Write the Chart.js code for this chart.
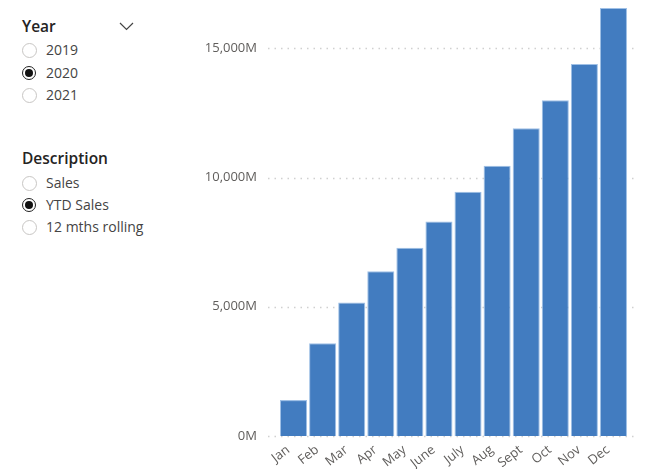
<!DOCTYPE html>
<html>
<head>
<meta charset="utf-8">
<script src="https://cdn.jsdelivr.net/npm/chart.js@4"></script>
<style>
  body { margin: 0; width: 659px; height: 469px; background: #fff; overflow: hidden; font-family: "Open Sans", "Noto Sans", sans-serif; }
  .title { position: absolute; left: 22px; font-size: 15.5px; color: #252423; font-weight: 600; line-height: 20px; }
  .item { position: absolute; left: 22px; font-size: 14px; color: #444; line-height: 20px; height: 20px; }
  .item i { position: absolute; left: 0; top: 3px; width: 13px; height: 13px; border: 1px solid #c8c6c4; border-radius: 50%; box-sizing: content-box; }
  .item.on i { border: 1.5px solid #222; width: 12px; height: 12px; }
  .item.on i::after { content: ""; position: absolute; left: 2px; top: 2px; width: 8px; height: 8px; border-radius: 50%; background: #111; }
  .item span { position: absolute; left: 24px; white-space: nowrap; }
  #wrap { position: absolute; left: 205px; top: 0; width: 454px; height: 469px; }
</style>
</head>
<body>
<div class="title" style="top:16px">Year</div>
<svg style="position:absolute;left:119px;top:22px" width="16" height="10"><polyline points="1,1 7.5,7.5 14,1" fill="none" stroke="#444" stroke-width="1.2"/></svg>
<div class="item" style="top:40px"><i></i><span>2019</span></div>
<div class="item on" style="top:63px"><i></i><span>2020</span></div>
<div class="item" style="top:85px"><i></i><span>2021</span></div>

<div class="title" style="top:148px">Description</div>
<div class="item" style="top:173px"><i></i><span>Sales</span></div>
<div class="item on" style="top:195px"><i></i><span>YTD Sales</span></div>
<div class="item" style="top:217px"><i></i><span>12 mths rolling</span></div>

<div id="wrap"><canvas id="myChart"></canvas></div>

<script>
const months = ['Jan', 'Feb', 'Mar', 'Apr', 'May', 'June', 'July', 'Aug', 'Sept', 'Oct', 'Nov', 'Dec'];
// YTD sales in millions
const ytdSales = [1390, 3590, 5170, 6370, 7280, 8300, 9450, 10460, 11910, 12990, 14390, 16560];
const yTicks = [0, 5000, 10000, 15000];

// dotted gridlines that run a bit past the bars, like the original
const dottedGrid = {
  id: 'dottedGrid',
  beforeDatasetsDraw(chart) {
    const ctx = chart.ctx;
    const area = chart.chartArea;
    const y = chart.scales.y;
    ctx.save();
    ctx.strokeStyle = '#d0d0d0';
    ctx.lineWidth = 1.5;
    ctx.setLineDash([1.5, 5]);
    yTicks.forEach(v => {
      const py = Math.round(y.getPixelForValue(v)) + 0.5;
      ctx.beginPath();
      ctx.moveTo(area.left - 11, py);
      ctx.lineTo(area.right + 9, py);
      ctx.stroke();
    });
    ctx.restore();
  }
};

const ctx = document.getElementById('myChart');

new Chart(ctx, {
  type: 'bar',
  data: {
    labels: months,
    datasets: [{
      label: 'YTD Sales',
      data: ytdSales,
      backgroundColor: '#427cc0',
      borderColor: '#9fc0e6',
      borderWidth: 1,
      barPercentage: 0.93,
      categoryPercentage: 1
    }]
  },
  plugins: [dottedGrid],
  options: {
    responsive: true,
    maintainAspectRatio: false,
    animation: false,
    layout: { padding: { top: 8, right: 31, bottom: 0, left: 0 } },
    plugins: { legend: { display: false }, tooltip: { enabled: false } },
    scales: {
      x: {
        grid: { display: false, drawTicks: false },
        border: { display: false },
        ticks: {
          color: '#605e5c',
          font: { family: 'Open Sans', size: 13 },
          minRotation: 38,
          maxRotation: 38,
          padding: 2,
          autoSkip: false,
          // trailing spaces pull each rotated label a little left of the bar centre
          callback: function (v) { return this.getLabelForValue(v) + '  '; }
        },
        afterFit(scale) {
          scale.height = 33;
          scale.paddingTop = 0;
          scale.paddingBottom = 0;
        }
      },
      y: {
        min: 0,
        max: 16560,
        grid: { display: false, drawTicks: false },
        border: { display: false },
        afterBuildTicks(scale) {
          scale.ticks = yTicks.map(v => ({ value: v }));
        },
        afterFit(scale) {
          scale.width = 74;
          scale.paddingTop = 0;
          scale.paddingBottom = 0;
        },
        ticks: {
          color: '#605e5c',
          font: { family: 'Open Sans', size: 13 },
          padding: 22,
          callback: v => v.toLocaleString('en-US') + 'M'
        }
      }
    }
  }
});
</script>
</body>
</html>
